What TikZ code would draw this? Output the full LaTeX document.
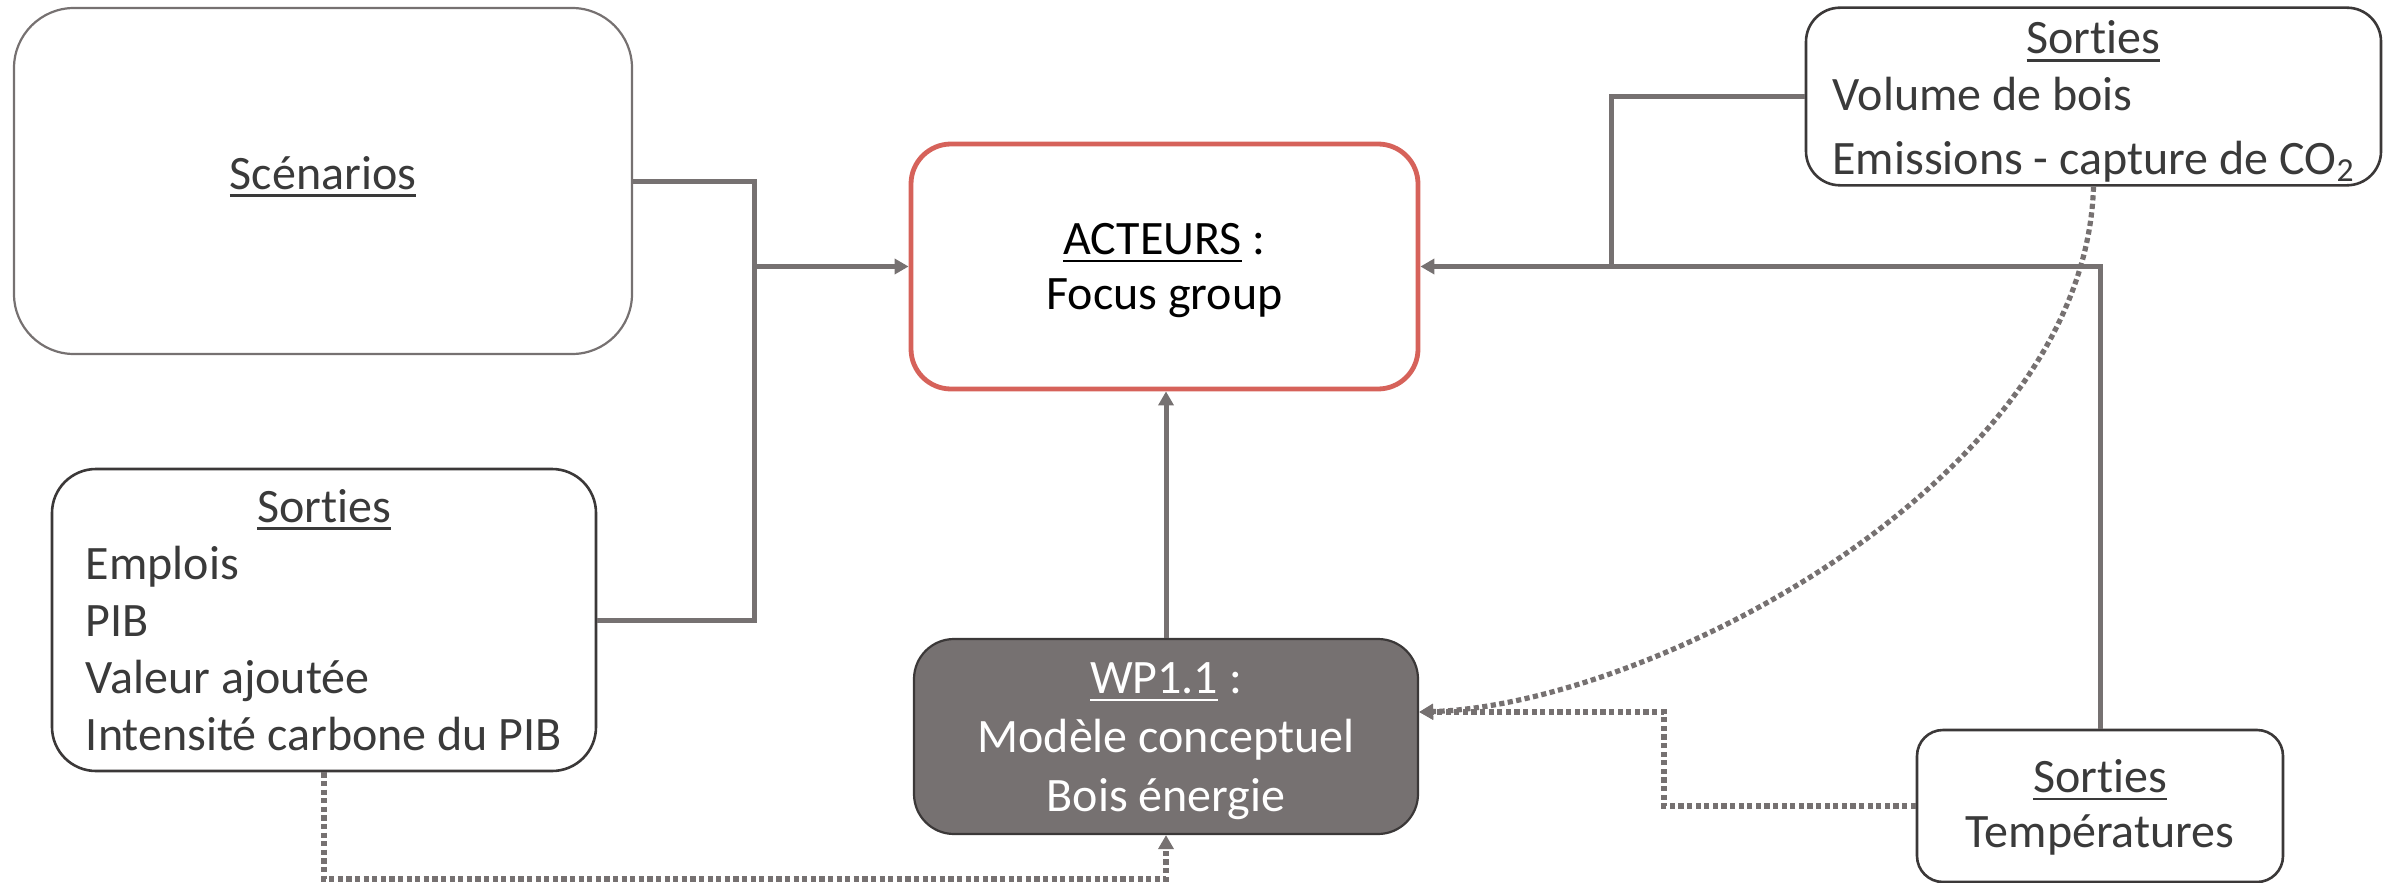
\documentclass[tikz,border=0pt]{standalone}
\usepackage{fontspec}
\setmainfont{Carlito}[Ligatures=NoCommon]
\usetikzlibrary{arrows.meta}
\definecolor{linegray}{HTML}{767171}
\definecolor{textgray}{HTML}{3A3A3A}
\definecolor{boxedge}{HTML}{3B3838}
\definecolor{actred}{HTML}{D6625A}
% underline with a fixed rule below the baseline
\newcommand{\ulin}[1]{\setbox0=\hbox{#1}\rlap{\rule[-3.9pt]{\wd0}{1.3pt}}\box0\relax}
% move a text block vertically inside its box without changing the box
\newcommand{\lowerby}[2]{\raisebox{-#1}[\height][\depth]{#2}}

\begin{document}
\begin{tikzpicture}[x=0.5pt,y=-0.5pt,
  txt/.style={font=\fontsize{24}{28.6}\selectfont, inner sep=0pt, align=center},
  box/.style={txt, rectangle, draw=boxedge, line width=1.3pt, fill=white, text=textgray},
  conn/.style={draw=linegray, line width=2.5pt},
  dots/.style={draw=linegray, line width=2.6pt, dash pattern=on 2.6pt off 1.7pt},
  tip/.style={-{Triangle[length=7pt,width=7.5pt]}},
]
\useasboundingbox (0,0) rectangle (2404,883);

% boxes
\node[box, draw=linegray, line width=1.1pt, rounded corners=30pt,
      minimum width=309pt, minimum height=173pt] (scen) at (323,181)
      {\lowerby{-2.3pt}{\ulin{Scénarios}}};

\node[box, draw=actred, line width=2.4pt, rounded corners=20pt, text=black,
      font=\fontsize{24}{27.5}\selectfont,
      minimum width=253.5pt, minimum height=122.5pt] (act) at (1164.5,266.5)
      {\lowerby{2.3pt}{\begin{tabular}{@{}c@{}}\ulin{ACTEURS} :\\ Focus group\end{tabular}}};

\node[box, rounded corners=17pt, minimum width=287.5pt, minimum height=88.5pt]
      (out2) at (2093.5,96.5)
      {\lowerby{3pt}{\begin{tabular}{@{}l@{}}\multicolumn{1}{@{}c@{}}{\ulin{Sorties}}\\
       Volume de bois\\[3pt] Emissions - capture de CO\textsubscript{2}\end{tabular}}};

\node[box, rounded corners=22pt, minimum width=272pt, minimum height=151pt]
      (out1) at (324,620)
      {\lowerby{2.5pt}{\begin{tabular}{@{}l@{}}\multicolumn{1}{@{}c@{}}{\ulin{Sorties}}\\
       Emplois\\ PIB\\ Valeur ajoutée\\ Intensité carbone du PIB\end{tabular}}};

\node[box, fill=linegray, draw=boxedge, line width=1.1pt, rounded corners=20pt, text=white,
      font=\fontsize{24}{29.5}\selectfont,
      minimum width=252pt, minimum height=97.5pt] (wp) at (1166,736.5)
      {\lowerby{2pt}{\begin{tabular}{@{}c@{}}\ulin{WP1.1} :\\ Modèle conceptuel\\ Bois énergie\end{tabular}}};

\node[box, rounded corners=13pt, font=\fontsize{24}{27.5}\selectfont,
      minimum width=183pt, minimum height=76pt] (out3) at (2100,806)
      {\lowerby{1.5pt}{\begin{tabular}{@{}c@{}}\ulin{Sorties}\\ Températures\end{tabular}}};

% junction points of the connectors
\coordinate (jL) at (754,266.5);
\coordinate (jR) at (1611,266.5);
\coordinate (jB) at (1166,879);
\coordinate (jD) at (1664,712);

% solid connectors towards the actors
\draw[conn] (scen.east) -| (jL);
\draw[conn] (out1.east) -| (jL);
\draw[conn,tip] (jL) -- (jL -| act.west);
\draw[conn,tip] (wp.north) -- (wp.north |- act.south);
\draw[conn] (out2.west) -| (jR);
\draw[conn,tip] (out3.north) |- (act.east);

% dotted feedback connectors towards WP1.1
\draw[dots,tip] (out1.south) |- (jB) -- (wp.south);
\draw[dots,tip] (out3.west) -| (jD) -- (jD -| wp.east);
\draw[dots,tip] (out2.south) .. controls (2085,480) and (1650,705) .. (jD -| wp.east);
\end{tikzpicture}
\end{document}
